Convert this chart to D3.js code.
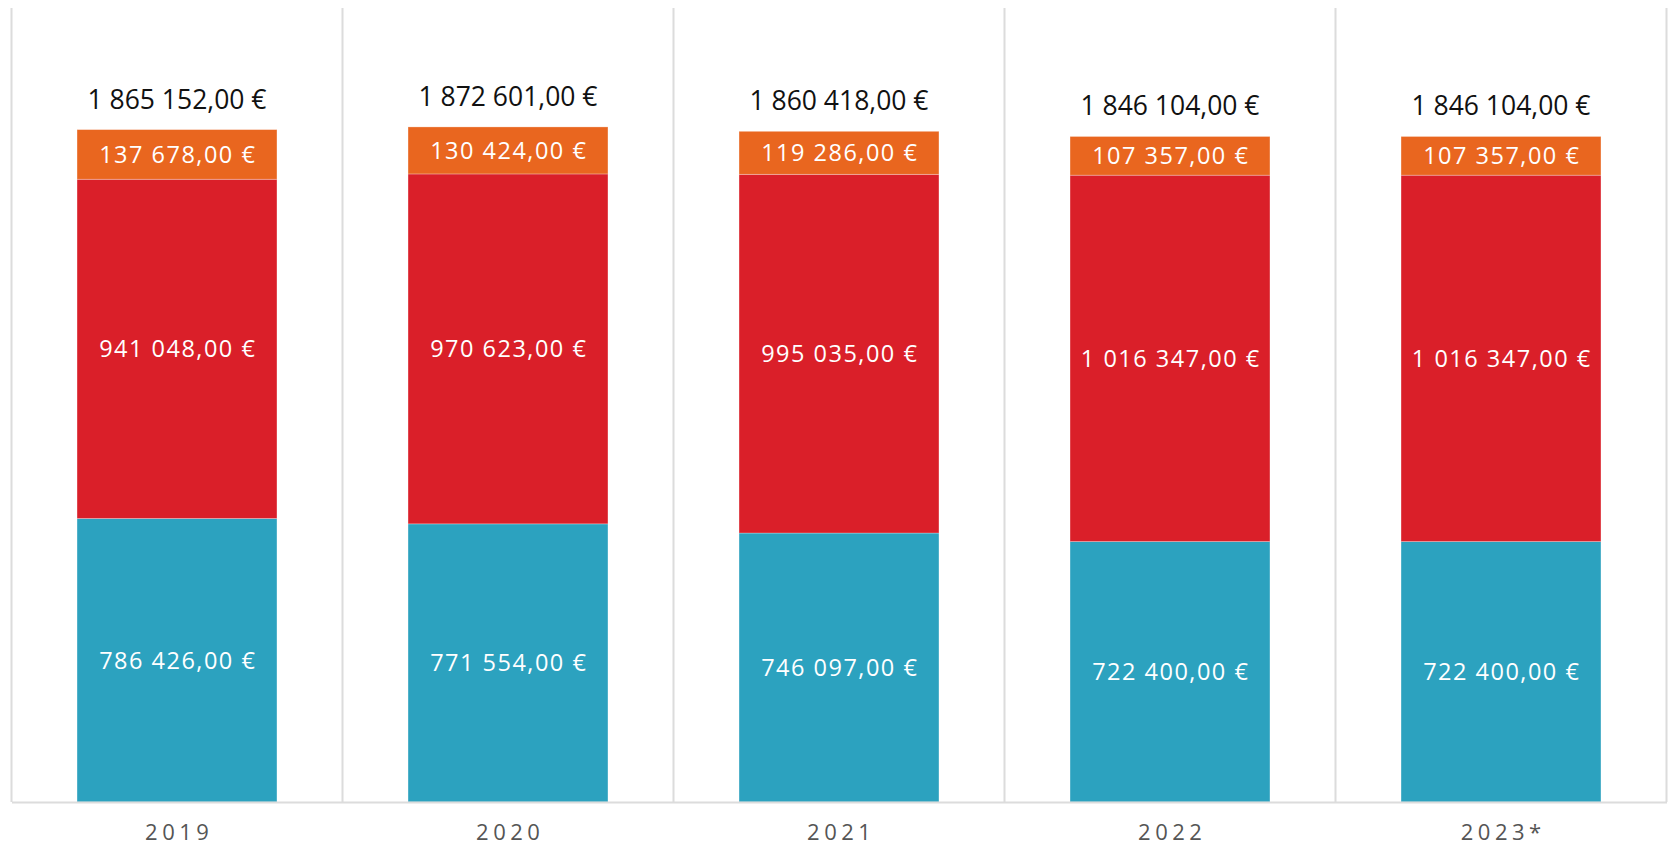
<!DOCTYPE html>
<html>
<head>
<meta charset="utf-8">
<script src="https://cdn.jsdelivr.net/npm/d3@7"></script>
<style>
  body { margin: 0; background: #fff; }
  svg { display: block; font-family: "Open Sans", sans-serif; }
</style>
</head>
<body>
<div id="chart"></div>
<script>
const years = ["2019", "2020", "2021", "2022", "2023*"]
const bottomSeries = [786426, 771554, 746097, 722400, 722400]
const middleSeries = [941048, 970623, 995035, 1016347, 1016347]
const topSeries = [137678, 130424, 119286, 107357, 107357]
const totals = [1865152, 1872601, 1860418, 1846104, 1846104]
const seriesKeys = ["bottom", "middle", "top"]
const seriesColors = ["#2ca2bf", "#da1f29", "#e9661f"]

drawChart("#chart")

function drawChart(id){
    const canvas = {width: 1669, height: 845, left: 11.5, right: 1666.5, top: 8.9, bottom: 802}

    const svg = d3.select(id).append("svg")
        .attr("width", canvas.width).attr("height", canvas.height)

    const rows = years.map((y, i) => ({year: y, bottom: bottomSeries[i], middle: middleSeries[i], top: topSeries[i], total: totals[i]}))

    const x = d3.scaleBand().domain(years).range([canvas.left, canvas.right]).padding(0)
    const y = d3.scaleLinear().domain([0, 2200000]).range([canvas.bottom, canvas.top])
    const color = d3.scaleOrdinal().domain(seriesKeys).range(seriesColors)

    const fr = d3.formatLocale({decimal: ",", thousands: "\u00a0", grouping: [3], currency: ["", "\u00a0€"]})
    const money = v => fr.format(",.2f")(v) + " €"

    const barW = x.bandwidth() * 0.604
    const barX = d => x(d.year) + (x.bandwidth() - barW) / 2

    // vertical grid lines at band edges
    const edges = years.map(d => x(d)).concat([x(years[years.length - 1]) + x.bandwidth()])
    svg.append("g").selectAll("line").data(edges).enter().append("line")
        .attr("x1", d => d).attr("x2", d => d)
        .attr("y1", canvas.top - 1).attr("y2", canvas.bottom)
        .attr("stroke", "#dcdcdc").attr("stroke-width", 2)

    const stacked = d3.stack().keys(seriesKeys)(rows)

    const layers = svg.append("g").selectAll("g").data(stacked).enter().append("g")
        .attr("fill", d => color(d.key))

    layers.selectAll("rect").data(d => d).enter().append("rect")
        .attr("x", d => barX(d.data)).attr("width", barW)
        .attr("y", d => y(d[1])).attr("height", d => y(d[0]) - y(d[1]))
        .attr("stroke", "rgba(255,255,255,0.35)").attr("stroke-width", 0.8)

    layers.selectAll("text").data(d => d).enter().append("text")
        .attr("x", d => x(d.data.year) + x.bandwidth() / 2 + 0.75)
        .attr("y", d => (y(d[0]) + y(d[1])) / 2)
        .attr("dy", "0.36em")
        .attr("text-anchor", "middle").attr("fill", "#fff")
        .attr("font-size", "23.5px").attr("letter-spacing", "1.5px")
        .text(d => money(d[1] - d[0]))

    svg.append("g").selectAll("text").data(rows).enter().append("text")
        .attr("x", d => x(d.year) + x.bandwidth() / 2)
        .attr("y", d => y(d.total) - 21)
        .attr("text-anchor", "middle").attr("fill", "#111")
        .attr("font-size", "26.5px")
        .text(d => money(d.total))

    const axis = svg.append("g").attr("transform", `translate(0,${canvas.bottom})`)
        .call(d3.axisBottom(x).tickSize(0).tickSizeOuter(0).tickPadding(22))
    axis.select(".domain").attr("stroke", "#dcdcdc").attr("stroke-width", 2)
    axis.selectAll("text")
        .attr("font-family", "Open Sans, sans-serif").attr("font-size", "22px")
        .attr("letter-spacing", "4.5px").attr("dx", "2.25px").attr("fill", "#555")
}
</script>
</body>
</html>
